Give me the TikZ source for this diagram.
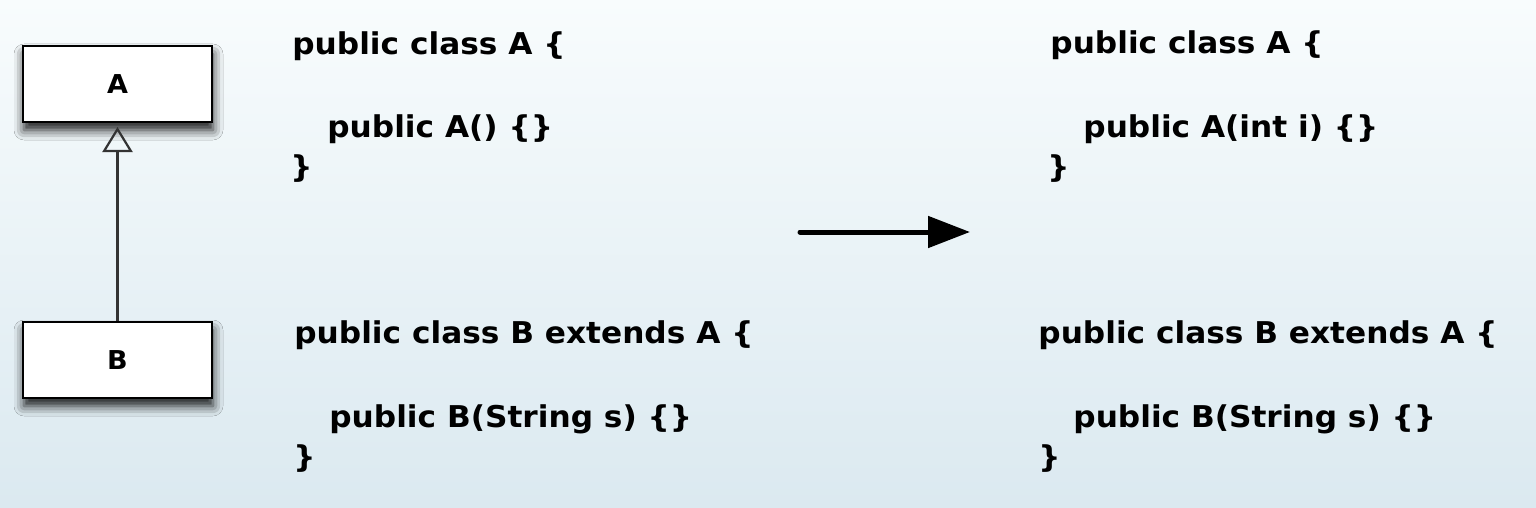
\documentclass[tikz,border=0pt]{standalone}
\usepackage{fontspec}
\usetikzlibrary{arrows.meta,shadows.blur}
\newfontfamily\codefont[FakeStretch=1.04]{DejaVu Sans}
\definecolor{bgtop}{RGB}{248,252,253}
\definecolor{bgbottom}{RGB}{219,233,240}
\begin{document}
\begin{tikzpicture}[x=0.5pt,y=-0.5pt,
    classbox/.style={draw=black, line width=1pt, fill=white, minimum width=94.5pt, minimum height=38pt,
      font=\codefont\bfseries\fontsize{13}{15}\selectfont,
      blur shadow={shadow xshift=0.5pt, shadow yshift=-4pt, shadow blur radius=5pt, shadow opacity=90}},
    code/.style={anchor=base west, inner sep=0pt, font=\codefont\bfseries\fontsize{15}{18}\selectfont}]
    % background
    \fill[top color=bgtop, bottom color=bgbottom] (0,0) rectangle (1536,508);
    \useasboundingbox (0,0) rectangle (1536,508);
    % class diagram
    \node[classbox] (A) at (117.5,84) {A};
    \node[classbox] (B) at (117.5,360) {B};
    \draw[-{Triangle[open,length=12.5pt,width=15pt]}, line width=1.1pt, draw=black!80, shorten >=2pt] (B) -- (A);
    % before
    \node[code] (oldA) at (292,55) {public class A \{};
    \node[code] (oldActor) at (327,138) {public A() \{\}};
    \node[code] (oldAend) at (290,177) {\}};
    \node[code] (oldB) at (294,343) {public class B extends A \{};
    \node[code] (oldBctor) at (329,427) {public B(String s) \{\}};
    \node[code] (oldBend) at (293,467) {\}};
    % after
    \node[code] (newA) at (1050,54) {public class A \{};
    \node[code] (newActor) at (1083,138) {public A(int i) \{\}};
    \node[code] (newAend) at (1047,177) {\}};
    \node[code] (newB) at (1038,343) {public class B extends A \{};
    \node[code] (newBctor) at (1073,427) {public B(String s) \{\}};
    \node[code] (newBend) at (1038,467) {\}};
    % change
    \coordinate (from) at (800,232);
    \coordinate (to) at (970,232);
    \draw[-{Triangle[length=21pt,width=15.5pt]}, line width=2.5pt, line cap=round] (from) -- (to);
\end{tikzpicture}
\end{document}
